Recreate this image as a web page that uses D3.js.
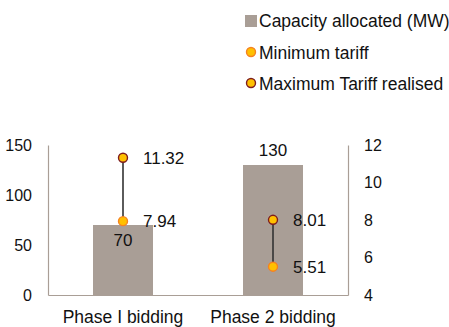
<!DOCTYPE html>
<html>
<head>
<meta charset="utf-8">
<script src="https://cdn.jsdelivr.net/npm/d3@7"></script>
<style>
  body { margin: 0; background: #fff; }
  text { font-family: "Liberation Sans", Arial, sans-serif; fill: #111; }
</style>
</head>
<body>
<svg id="chart"></svg>
<script>
var categories = ["Phase I bidding", "Phase 2 bidding"];
var capacity = [70, 130];
var minTariff = [7.94, 5.51];
var maxTariff = [11.32, 8.01];
var leftTicks = [0, 50, 100, 150];
var rightTicks = [4, 6, 8, 10, 12];
var legendItems = ["Capacity allocated (MW)", "Minimum tariff", "Maximum Tariff realised"];

var width = 449, height = 327;
var margin = {top: 145, right: 101, bottom: 32, left: 48};
var innerW = width - margin.left - margin.right;
var innerH = height - margin.top - margin.bottom;

var barColor = "#a99e96";
var dotFill = "#ffc000";
var minStroke = "#f58220";
var maxStroke = "#7f1d1d";

var svg = d3.select("#chart").attr("width", width).attr("height", height);
var g = svg.append("g").attr("transform", "translate(" + margin.left + "," + margin.top + ")");

var x = d3.scaleBand().domain(categories).range([0, innerW]).paddingInner(0.6).paddingOuter(0.3);
var yL = d3.scaleLinear().domain([0, 150]).range([innerH, 0]);
var yR = d3.scaleLinear().domain([4, 12]).range([innerH, 0]);

// axes
var left = g.append("g").call(d3.axisLeft(yL).tickValues(leftTicks).tickSize(0).tickPadding(16));
var right = g.append("g").attr("transform", "translate(" + innerW + ",0)")
    .call(d3.axisRight(yR).tickValues(rightTicks).tickSize(0).tickPadding(16));
var bottom = g.append("g").attr("transform", "translate(0," + innerH + ")")
    .call(d3.axisBottom(x).tickSize(0).tickPadding(16));
[left, right, bottom].forEach(function(a) {
  a.select(".domain").attr("stroke", barColor).attr("stroke-width", 1.2);
  a.selectAll("text").attr("font-size", 16).attr("fill", "#111")
    .attr("font-family", "Liberation Sans, Arial, sans-serif");
});
bottom.selectAll("text").attr("font-size", 17.5);

// bars
g.selectAll("rect.bar").data(capacity).enter().append("rect")
  .attr("class", "bar")
  .attr("x", (d, i) => x(categories[i]))
  .attr("width", x.bandwidth())
  .attr("y", d => yL(d))
  .attr("height", d => innerH - yL(d))
  .attr("fill", barColor);

// bar labels
g.selectAll("text.cap").data(capacity).enter().append("text")
  .attr("class", "cap")
  .attr("x", (d, i) => x(categories[i]) + x.bandwidth() / 2)
  .attr("y", (d, i) => i === 0 ? yL(d) + 21 : yL(d) - 9)
  .attr("text-anchor", "middle")
  .attr("font-size", 17)
  .text(d => d);

// tariff range lines
var cx = i => x(categories[i]) + x.bandwidth() / 2;
g.selectAll("line.rng").data(categories).enter().append("line")
  .attr("x1", (d, i) => cx(i)).attr("x2", (d, i) => cx(i))
  .attr("y1", (d, i) => yR(maxTariff[i])).attr("y2", (d, i) => yR(minTariff[i]))
  .attr("stroke", "#333").attr("stroke-width", 1.6);

function dots(vals, stroke) {
  g.selectAll(null).data(vals).enter().append("circle")
    .attr("cx", (d, i) => cx(i)).attr("cy", d => yR(d)).attr("r", 4.5)
    .attr("fill", dotFill).attr("stroke", stroke).attr("stroke-width", 1.4);
  g.selectAll(null).data(vals).enter().append("text")
    .attr("x", (d, i) => cx(i) + 20).attr("y", d => yR(d) + 6)
    .attr("font-size", 17)
    .text(d => d.toFixed(2));
}
dots(maxTariff, maxStroke);
dots(minTariff, minStroke);

// legend
var lg = svg.append("g").attr("transform", "translate(245,0)");
lg.append("rect").attr("x", 0).attr("y", 15).attr("width", 12).attr("height", 12).attr("fill", barColor);
lg.append("circle").attr("cx", 6).attr("cy", 52).attr("r", 4.5).attr("fill", dotFill).attr("stroke", minStroke).attr("stroke-width", 1.4);
lg.append("circle").attr("cx", 6).attr("cy", 83).attr("r", 4.5).attr("fill", dotFill).attr("stroke", maxStroke).attr("stroke-width", 1.4);
lg.selectAll("text").data(legendItems).enter().append("text")
  .attr("x", 14).attr("y", (d, i) => 27 + i * 31.5)
  .attr("font-size", 17.5)
  .text(d => d);
</script>
</body>
</html>
